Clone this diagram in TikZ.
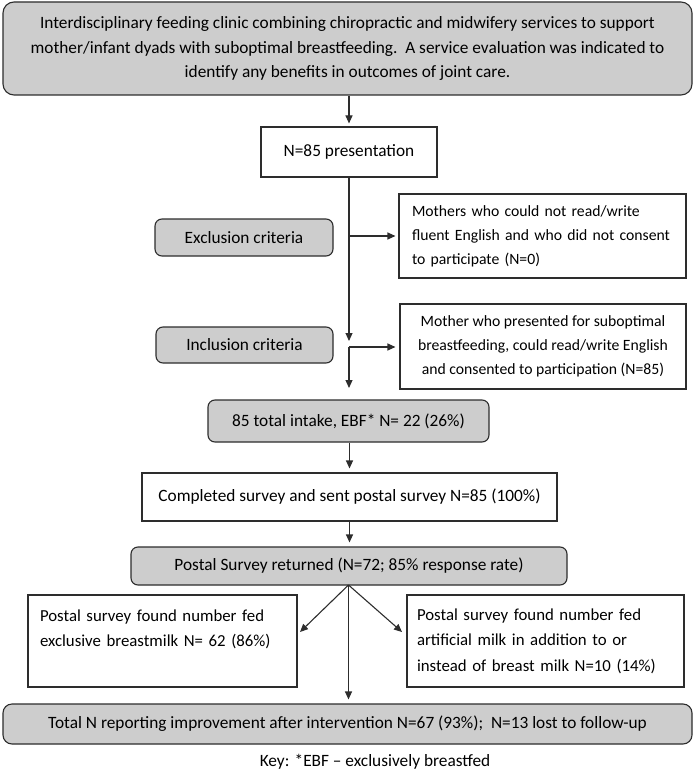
\documentclass[tikz,border=0pt]{standalone}
\usepackage{fontspec}
\setmainfont{Carlito}
\usetikzlibrary{arrows.meta}
\definecolor{boxgray}{RGB}{205,205,205}
\definecolor{edge}{RGB}{45,45,45}
\tikzset{
  base/.style={draw=edge, line width=1.1pt, inner sep=0pt, font=\fontsize{17.3}{24.5}\selectfont, text=black},
  graybox/.style={base, fill=boxgray, rounded corners=7pt},
  whitebox/.style={base, fill=white},
  midfont/.style={font=\fontsize{15.7}{24}\selectfont},
  bigfont/.style={font=\fontsize{16.8}{25.5}\selectfont},
  arr/.style={draw=edge, line width=1.1pt, -{Triangle[length=8pt,width=7pt]}}
}
\begin{document}
\begin{tikzpicture}[x=1pt,y=-1pt]
\useasboundingbox (0,0) rectangle (696,770);
\node[graybox, rounded corners=11pt, minimum width=689pt, minimum height=93pt, align=center] (top) at (347.5,48.5)
  {Interdisciplinary feeding clinic combining chiropractic and midwifery services to support\\
   mother/infant dyads with suboptimal breastfeeding.\ \ A service evaluation was indicated to\\
   identify any benefits in outcomes of joint care.};
\node[whitebox, minimum width=176pt, minimum height=50pt] (n85) at (349,152) {N=85 presentation};
\node[graybox, minimum width=178pt, minimum height=37pt] (excl) at (244,237.5) {Exclusion criteria};
\node[whitebox, midfont, minimum width=287pt, minimum height=84pt, text width=261pt, align=left] (exclR) at (542.5,236)
  {\mbox{Mothers who could not read/write}\\\mbox{fluent English and who did not consent}\\\mbox{to participate (N=0)}};
\node[graybox, minimum width=177pt, minimum height=36pt] (incl) at (244.5,345) {Inclusion criteria};
\node[whitebox, midfont, minimum width=286pt, minimum height=85pt, align=center] (inclR) at (543,346.5)
  {Mother who presented for suboptimal\\breastfeeding, could read/write English\\and consented to participation (N=85)};
\node[graybox, minimum width=281pt, minimum height=42pt] (intake) at (348.5,421) {85 total intake, EBF* N= 22 (26\%)};
\node[whitebox, minimum width=415pt, minimum height=48pt] (completed) at (349.5,497) {Completed survey and sent postal survey N=85 (100\%)};
\node[graybox, minimum width=436pt, minimum height=38pt] (returned) at (349,566) {Postal Survey returned (N=72; 85\% response rate)};
\node[whitebox, bigfont, minimum width=269pt, minimum height=92pt, text width=245pt, align=left] (leftB) at (162.5,641)
  {\mbox{Postal survey found number fed}\\\mbox{exclusive breastmilk N= 62 (86\%)}\\ \mbox{}};
\node[whitebox, bigfont, minimum width=277pt, minimum height=92pt, text width=257pt, align=left] (rightB) at (545.5,641)
  {\mbox{Postal survey found number fed}\\\mbox{artificial milk in addition to or}\\\mbox{instead of breast milk N=10 (14\%)}};
\node[graybox, rounded corners=9pt, minimum width=689pt, minimum height=40pt] (bottom) at (347.5,724)
  {Total N reporting improvement after intervention N=67 (93\%);\ \ N=13 lost to follow-up};
\node[font=\fontsize{17.3}{24.5}\selectfont, text=black, inner sep=0pt] (key) at (375,762) {Key: *EBF -- exclusively breastfed};
% connectors
\coordinate (c1) at (349,341);
\coordinate (e1) at (349,236);
\coordinate (i1) at (349,347);
\coordinate (c2) at (349,388);
\coordinate (r0) at (348.5,585);
\coordinate (lt) at (300,632);
\coordinate (rt) at (402,632);
\draw[arr, shorten >=3pt] (top.south -| n85.north) -- (n85.north);
\draw[arr] (n85.south) -- (c1);
\draw[arr, shorten >=3pt] (e1) -- (exclR.west |- e1);
\draw[arr, shorten >=4pt] (i1) -- (inclR.west |- i1);
\draw[arr] (i1) -- (c2);
\draw[arr, shorten >=4pt] (intake.south -| completed.north) -- (completed.north);
\draw[arr, shorten >=4pt] (completed.south) -- (returned.north -| completed.south);
\draw[arr] (r0) -- (lt);
\draw[arr] (r0) -- (rt);
\draw[arr, shorten >=4pt] (r0) -- (bottom.north -| r0);
\end{tikzpicture}
\end{document}
